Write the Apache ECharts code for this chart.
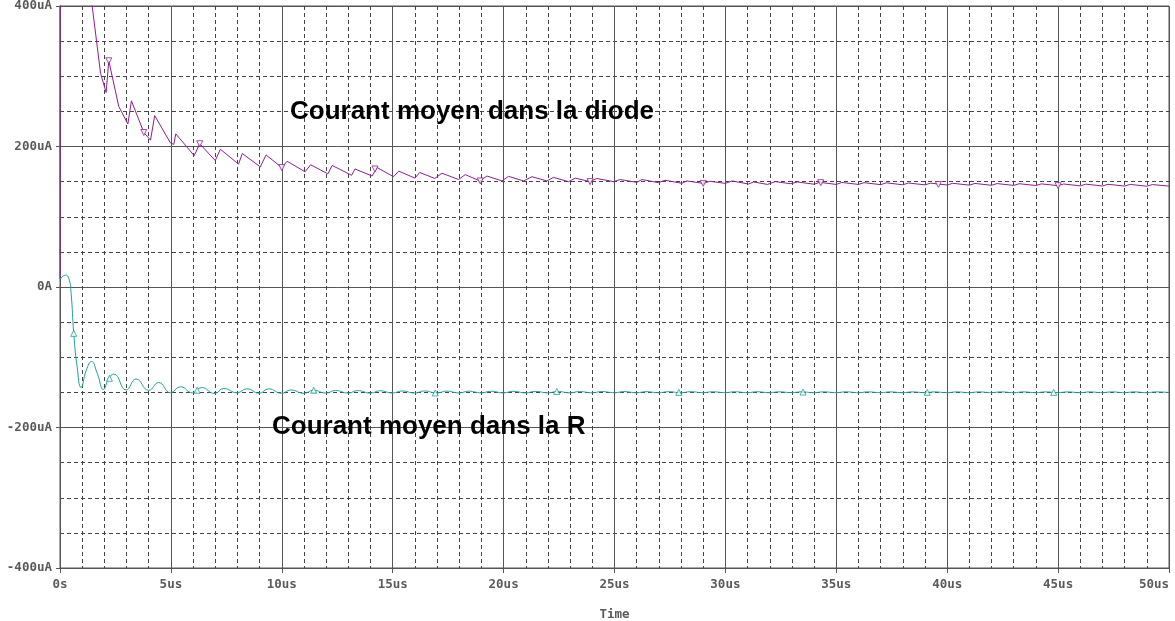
<!DOCTYPE html>
<html>
<head>
<meta charset="utf-8">
<script src="https://cdn.jsdelivr.net/npm/echarts@6/dist/echarts.min.js"></script>
<style>html,body{margin:0;padding:0;background:#fff;overflow:hidden;}#c{width:1175px;height:621px;}</style>
</head>
<body>
<div id="c"></div>
<script>
// Time ticks (us) and labels
var xTicks = [0, 5, 10, 15, 20, 25, 30, 35, 40, 45, 50];
var xTickLabels = ['0s','5us','10us','15us','20us','25us','30us','35us','40us','45us','50us'];
var yTicks = [-400, -200, 0, 200, 400];
var yTickLabels = ['-400uA','-200uA','0A','200uA','400uA'];

// Courant moyen dans la diode: [time us, current uA]
var diode = [[0,12],[0.01,900],[1.3,450],[1.45,400],[1.83,304],[2.08,277],[2.2,322],[2.65,257],[3.06,232],[3.22,265],
[3.78,220],[4.08,209],[4.27,244],[4.98,205],[5.13,203],[5.22,218],[6.05,187],[6.3,204],[7.0,180],[7.23,196],
[8.05,175],[8.22,190],[9.03,171],[9.29,188],[10.0,170],[10.24,179],[11.05,164],[11.3,174],[12.08,161],[12.27,173],
[13.15,159],[13.3,168],[14.07,158],[14.3,170],[15.04,157],[15.27,165],[16.0,155],[16.22,163],[16.9,154.5],[17.22,162],
[17.97,153],[18.27,160],[18.93,151],[19.25,158],[19.93,151],[20.22,157.5],[20.9,151],[21.28,157],[21.95,151],[22.25,156],
[22.93,150],[23.23,155],[23.9,150],[24.2,154.5],[24.96,150],[25.26,153],[26.0,149],[26.24,153],[26.98,148.5],[27.28,152],
[28.04,147.6],[28.26,151],[29.0,147.5],[29.3,150.5],[30.0,147.5],[30.3,151],[31.04,146.6],[31.27,149.5],[31.9,146],[32.25,150],
[32.95,147],[33.25,149.5],[34.0,146.3],[34.25,149],[35.0,146],[35.25,148.8],[36.0,146],[36.25,148.5],[37.0,145.7],[37.25,148.3],
[38.0,145.5],[38.25,148],[39.0,145.4],[39.25,147.8],[40.0,145.2],[40.25,147.6],[41.0,145],[41.25,147.4],[42.0,144.8],[42.25,147.2],
[43.0,144.6],[43.25,147],[44.0,144.5],[44.25,146.8],[45.0,144.2],[45.25,146.6],[46.0,144],[46.25,146.4],[47.0,143.8],[47.25,146.2],
[48.0,143.7],[48.25,146],[49.0,143.5],[49.25,145.8],[50,143.6]];

// Courant moyen dans la R: [time us, current uA]
var resist = [[0,11],[0.25,17],[0.4,12],[0.5,-9],[0.62,-66],[0.77,-113],[0.95,-143],[1.19,-118],[1.42,-106],[1.68,-123],
[1.96,-146],[2.2,-130],[2.43,-124],[2.98,-146.6],[3.43,-131],[4.0,-147],[4.45,-136],[4.98,-150.5],[5.43,-142],[5.98,-150.7],
[6.38,-143],[6.97,-151.5],[7.38,-144.5],[7.98,-150.5],[8.44,-144.8],[8.97,-151.4],[9.4,-145],[10.0,-151.4],[10.4,-146.6],[11.0,-151.3],
[11.42,-147],[12.0,-151],[12.42,-147.3],[13.0,-151],[13.42,-147.5],[14.0,-151],[14.42,-147.7],[15.0,-150.9],[15.42,-148],[16.0,-150.9],
[16.42,-148],[17.0,-150.8],[17.42,-148.2],[18.0,-150.8],[18.42,-148.3],[19.0,-150.7],[19.42,-148.4],[20.0,-150.7],[20.42,-148.5],[21.0,-150.7],
[21.42,-148.6],[22,-150.6],[22.42,-148.7],[23,-150.6],[23.42,-148.8],[24,-150.6],[24.42,-148.8],[25,-150.5],[25.42,-148.9],[26,-150.5],
[26.42,-149],[27,-150.5],[27.42,-149],[28,-150.5],[28.42,-149],[29,-150.4],[29.42,-149.1],[30,-150.4],[30.42,-149.1],[31,-150.4],
[31.42,-149.1],[32,-150.4],[32.42,-149.2],[33,-150.4],[33.42,-149.2],[34,-150.4],[34.42,-149.2],[35,-150.4],[35.42,-149.2],[36,-150.4],
[36.42,-149.3],[37,-150.4],[37.42,-149.3],[38,-150.4],[38.42,-149.3],[39,-150.4],[39.42,-149.3],[40,-150.4],[40.42,-149.3],[41,-150.4],
[41.42,-149.3],[42,-150.4],[42.42,-149.3],[43,-150.4],[43.42,-149.3],[44,-150.4],[44.42,-149.3],[45,-150.4],[45.42,-149.3],[46,-150.4],
[46.42,-149.3],[47,-150.4],[47.42,-149.3],[48,-150.4],[48.42,-149.3],[49,-150.4],[49.42,-149.3],[50,-150.2]];

// Trace markers
var diodeMarkers = [[2.2,322],[3.78,220],[6.3,204],[10.0,170],[14.2,168],[18.95,151],[23.9,150],[29.0,147.5],[34.3,148.5],[39.6,146],[45.0,144.2]];
var resistMarkers = [[0.62,-66],[2.23,-130],[6.18,-147],[11.44,-147],[16.92,-150.8],[22.4,-148.7],[27.9,-150],[33.5,-149.5],[39.1,-150],[44.8,-150]];

var labels = ['Courant moyen dans la diode', 'Courant moyen dans la R'];

var cDiode = '#8c1f8c', cR = '#1ea396';
var gridCol = '#555';
var labFont = {color:'#5a5a5a', fontFamily:'DejaVu Sans Mono', fontSize:12.5, fontWeight:'bold'};

var chart = echarts.init(document.getElementById('c'), null, {renderer:'canvas'});
chart.setOption({
  animation:false,
  backgroundColor:'#fff',
  grid:{left:60, right:6, top:6, bottom:53, outerBoundsMode:'none', containLabel:false,
        show:true, borderColor:gridCol, borderWidth:1, backgroundColor:'#fff'},
  xAxis:{
    type:'value', min:0, max:50, interval:5,
    name:'Time', nameLocation:'middle', nameGap:40,
    nameTextStyle:{color:'#5a5a5a', fontFamily:'DejaVu Sans Mono', fontSize:12.5, fontWeight:'bold'},
    axisLine:{show:true, onZero:false, lineStyle:{color:gridCol}},
    axisTick:{show:true, length:5, lineStyle:{color:gridCol}},
    axisLabel:Object.assign({margin:10, hideOverlap:false, alignMaxLabel:'right', formatter:function(v){var i=xTicks.indexOf(v);return i>=0?xTickLabels[i]:'';}}, labFont),
    splitLine:{show:true, lineStyle:{color:gridCol, width:1}},
    minorTick:{show:false, splitNumber:5},
    minorSplitLine:{show:true, lineStyle:{color:'#444', width:1, type:[4,3]}}
  },
  yAxis:{
    type:'value', min:-400, max:400, interval:200,
    axisLine:{show:true, lineStyle:{color:gridCol}},
    axisTick:{show:true, length:4, lineStyle:{color:gridCol}},
    axisLabel:Object.assign({margin:8, formatter:function(v){var i=yTicks.indexOf(v);return i>=0?yTickLabels[i]:'';}}, labFont),
    splitLine:{show:true, lineStyle:{color:gridCol, width:1}},
    minorTick:{show:false, splitNumber:4},
    minorSplitLine:{show:true, lineStyle:{color:'#444', width:1, type:[4,3]}}
  },
  series:[
    {type:'line', data:diode, showSymbol:false, clip:true, lineStyle:{color:cDiode, width:1}, itemStyle:{color:cDiode}, z:5},
    {type:'line', data:resist, showSymbol:false, smooth:0.5, clip:true, lineStyle:{color:cR, width:1}, itemStyle:{color:cR}, z:5},
    {type:'scatter', data:diodeMarkers, symbol:'triangle', symbolRotate:180, symbolSize:6,
      itemStyle:{color:'#fff', borderColor:cDiode, borderWidth:1}, z:6},
    {type:'scatter', data:resistMarkers, symbol:'triangle', symbolSize:6,
      itemStyle:{color:'#fff', borderColor:cR, borderWidth:1}, z:6}
  ],
  graphic:[
    {type:'text', left:290, top:99, style:{text:labels[0], fill:'#000', font:'bold 26px "Liberation Sans", Arial, sans-serif'}, z:10},
    {type:'text', left:272, top:414, style:{text:labels[1], fill:'#000', font:'bold 26px "Liberation Sans", Arial, sans-serif'}, z:10}
  ]
});
</script>
</body>
</html>
